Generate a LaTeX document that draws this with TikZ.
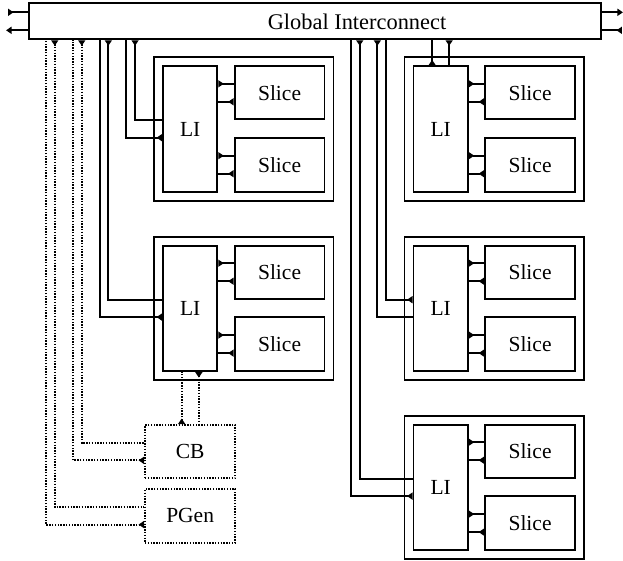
\documentclass[tikz,border=0pt]{standalone}
\usepackage{fontspec}
\setmainfont{Liberation Serif}
\usetikzlibrary{arrows.meta,calc}
\tikzset{
  src/.tip={Triangle[length=5.5pt,width=7pt,reversed]},
  snk/.tip={Triangle[length=5.5pt,width=7pt]},
  box/.style={draw,line width=1.9pt,inner sep=0pt,font=\fontsize{21.5}{24}\selectfont},
  dotbox/.style={box,dash pattern=on 1.4pt off 1.4pt},
  wire/.style={line width=1.9pt},
  dwire/.style={wire,dash pattern=on 1.4pt off 1.4pt},
}
% One tile: outer frame, local interconnect and two slices
% #1 name, #2 left edge, #3 top edge
\newcommand\tile[3]{%
  \node[box,minimum width=179.5pt,minimum height=143.4pt] (#1) at ({#2+89.75},{#3+71.7}) {};
  \node[box,minimum width=54.3pt,minimum height=125.4pt] (#1li) at ({#2+36.15},{#3+71.7}) {LI};
  \node[box,minimum width=89.9pt,minimum height=53pt] (#1s1) at ({#2+125.55},{#3+35.5}) {Slice};
  \node[box,minimum width=89.9pt,minimum height=54pt] (#1s2) at ({#2+125.55},{#3+107.4}) {Slice};
  \foreach \s in {s1,s2}{
    \coordinate (#1\s-a) at ([yshift=9pt]#1\s.west);
    \coordinate (#1\s-b) at ([yshift=-9pt]#1\s.west);
    \draw[wire,{src}-] (#1li.east |- #1\s-a) -- (#1\s-a);
    \draw[wire,{src}-] (#1\s-b) -- (#1li.east |- #1\s-b);
  }
}
\begin{document}
\begin{tikzpicture}[x=1pt,y=-1pt]
\useasboundingbox (0,0) rectangle (623,560);

% global interconnect
\node[box,minimum width=572pt,minimum height=36pt] (GI) at (315,21.3) {};
\node[font=\fontsize{22.4}{24}\selectfont,inner sep=0pt] (GIt) at (357,21.5) {Global Interconnect};

% external ports
\coordinate (inL) at ([xshift=-20pt,yshift=9pt]GI.west);
\coordinate (outL) at ([xshift=-22pt,yshift=-9pt]GI.west);
\coordinate (outR) at ([xshift=21pt,yshift=9pt]GI.east);
\coordinate (inR) at ([xshift=20pt,yshift=-9pt]GI.east);
\draw[wire,{src}-] (inL) -- (GI.west |- inL);
\draw[wire,-{snk}] (GI.west |- outL) -- (outL);
\draw[wire,-{snk}] (GI.east |- outR) -- (outR);
\draw[wire,{src}-] (inR) -- (GI.east |- inR);

% tiles
\tile{A}{154}{57.3}
\tile{B}{154}{236.7}
\tile{C}{404.5}{57.3}
\tile{D}{404.5}{236.7}
\tile{E}{404.5}{415.7}

% configuration block and pattern generator
\node[dotbox,minimum width=90.3pt,minimum height=53.3pt] (CB) at (190.15,451.65) {CB};
\node[dotbox,minimum width=90.3pt,minimum height=53.7pt] (PG) at (190.15,515.85) {PGen};

% tile A links
\draw[wire,{src}-] ([xshift=107pt]GI.south west) |- ([yshift=8.7pt]Ali.west);
\draw[wire,{src}-] ([yshift=-8.7pt]Ali.west) -| ([xshift=98.3pt]GI.south west);
% tile B links
\draw[wire,{src}-] ([xshift=80.3pt]GI.south west) |- ([yshift=8.7pt]Bli.west);
\draw[wire,{src}-] ([yshift=-8.7pt]Bli.west) -| ([xshift=71.7pt]GI.south west);
% tile C links
\coordinate (Cu) at ([xshift=-8.5pt]Cli.north);
\coordinate (Cd) at ([xshift=8.5pt]Cli.north);
\draw[wire,{src}-] (Cu) -- (GI.south -| Cu);
\draw[wire,{src}-] (GI.south -| Cd) -- (Cd);
% tile D links
\draw[wire,{src}-] ([yshift=8.7pt]Dli.west) -| ([xshift=358pt]GI.south west);
\draw[wire,{src}-] ([xshift=349.3pt]GI.south west) |- ([yshift=-8.7pt]Dli.west);
% tile E links
\draw[wire,{src}-] ([xshift=331.7pt]GI.south west) |- ([yshift=8.7pt]Eli.west);
\draw[wire,{src}-] ([yshift=-8.7pt]Eli.west) -| ([xshift=322.7pt]GI.south west);

% configuration paths
\draw[dwire,{src}-] ([xshift=53.7pt]GI.south west) |- ([yshift=8.7pt]CB.west);
\draw[dwire,{src}-] ([yshift=-8.7pt]CB.west) -| ([xshift=45pt]GI.south west);
\draw[dwire,{src}-] ([xshift=26.7pt]GI.south west) |- ([yshift=8.7pt]PG.west);
\draw[dwire,{src}-] ([yshift=-8.7pt]PG.west) -| ([xshift=17.7pt]GI.south west);
\coordinate (Bd1) at ([xshift=-8.5pt]Bli.south);
\coordinate (Bd2) at ([xshift=8.7pt]Bli.south);
\draw[dwire,{src}-] (CB.north -| Bd1) -- (Bd1);
\draw[dwire,{src}-] (Bd2) -- (CB.north -| Bd2);
\end{tikzpicture}
\end{document}
